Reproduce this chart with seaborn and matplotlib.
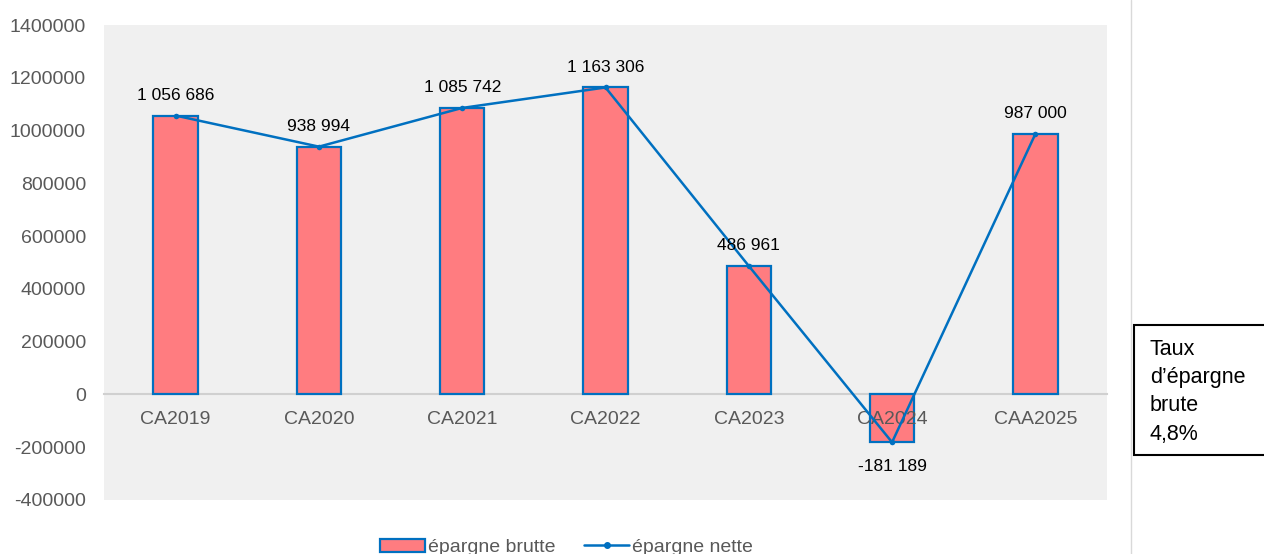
import numpy as np
import pandas as pd
import seaborn as sns
import matplotlib.pyplot as plt
from matplotlib.patches import Patch, Rectangle
from matplotlib.lines import Line2D

annees = ['CA2019', 'CA2020', 'CA2021', 'CA2022', 'CA2023', 'CA2024', 'CAA2025']
epargne_brute = [1056686, 938994, 1085742, 1163306, 486961, -181189, 987000]
epargne_nette = [1056686, 938994, 1085742, 1163306, 486961, -181189, 987000]
etiquettes = ['1 056 686', '938 994', '1 085 742', '1 163 306', '486 961', '-181 189', '987 000']

sns.set_theme(style='white')
plt.rcParams['font.family'] = ['Liberation Sans', 'DejaVu Sans']

rose = '#ff7c80'
bleu = '#0070c0'
gris = '#595959'

df = pd.DataFrame({'annee': annees, 'brute': epargne_brute, 'nette': epargne_nette})

fig = plt.figure(figsize=(12.64, 5.54), dpi=100)
ax = fig.add_axes([104 / 1264, 54 / 554, 1003 / 1264, 475 / 554])
ax.set_facecolor('#f0f0f0')

sns.barplot(data=df, x='annee', y='brute', color=rose, width=0.31,
            edgecolor=bleu, linewidth=1.6, saturation=1, ax=ax, zorder=2)
sns.lineplot(x=np.arange(len(annees)), y=df['nette'], color=bleu, linewidth=1.8,
             marker='o', markersize=4, markeredgewidth=0, ax=ax, zorder=3)

for i, (v, t) in enumerate(zip(epargne_brute, etiquettes)):
    if v >= 0:
        ax.annotate(t, (i, v), xytext=(0, 9), textcoords='offset points',
                    ha='center', va='bottom', fontsize=12.5, color='black', zorder=4)
    else:
        ax.annotate(t, (i, v), xytext=(0, -12), textcoords='offset points',
                    ha='center', va='top', fontsize=12.5, color='black', zorder=4)

ax.set_ylim(-400000, 1400000)
ax.set_xlim(-0.5, len(annees) - 0.5)
ax.set_yticks(np.arange(-400000, 1400001, 200000))
ax.set_yticklabels([str(v) for v in range(-400000, 1400001, 200000)])
ax.set_xlabel('')
ax.set_ylabel('')
ax.set_axisbelow(False)

for s in ['top', 'right', 'left']:
    ax.spines[s].set_visible(False)
ax.spines['bottom'].set_position(('data', 0))
ax.spines['bottom'].set_color('#d0d0d0')
ax.spines['bottom'].set_linewidth(1.5)
ax.spines['bottom'].set_zorder(1)
ax.tick_params(axis='x', length=0, pad=12, labelsize=14, labelcolor=gris)
ax.tick_params(axis='y', length=0, pad=13, labelsize=14, labelcolor=gris)

handles = [Patch(facecolor=rose, edgecolor=bleu, linewidth=1.6),
           Line2D([0], [0], color=bleu, linewidth=1.8, marker='o', markersize=4)]
leg = fig.legend(handles, ['épargne brutte', 'épargne nette'], loc='lower center',
                 bbox_to_anchor=(0.448, -0.035), ncol=2, frameon=False, fontsize=14,
                 handlelength=2.3, handleheight=0.65, handletextpad=0.15, columnspacing=1.5)
for t in leg.get_texts():
    t.set_color(gris)

# separateur de page et encadre
fig.add_artist(Line2D([1131 / 1264, 1131 / 1264], [0, 1], color='#d9d9d9', linewidth=1))
fig.add_artist(Rectangle((1134 / 1264, 99 / 554), 140 / 1264, 130 / 554,
                         facecolor='white', edgecolor='black', linewidth=1.5))
fig.text(1150 / 1264, (554 - 339) / 554, 'Taux\nd\u2019épargne\nbrute\n4,8%', ha='left', va='top',
         fontsize=15.5, color='black', linespacing=1.45)

fig.savefig('out.png', dpi=100)
